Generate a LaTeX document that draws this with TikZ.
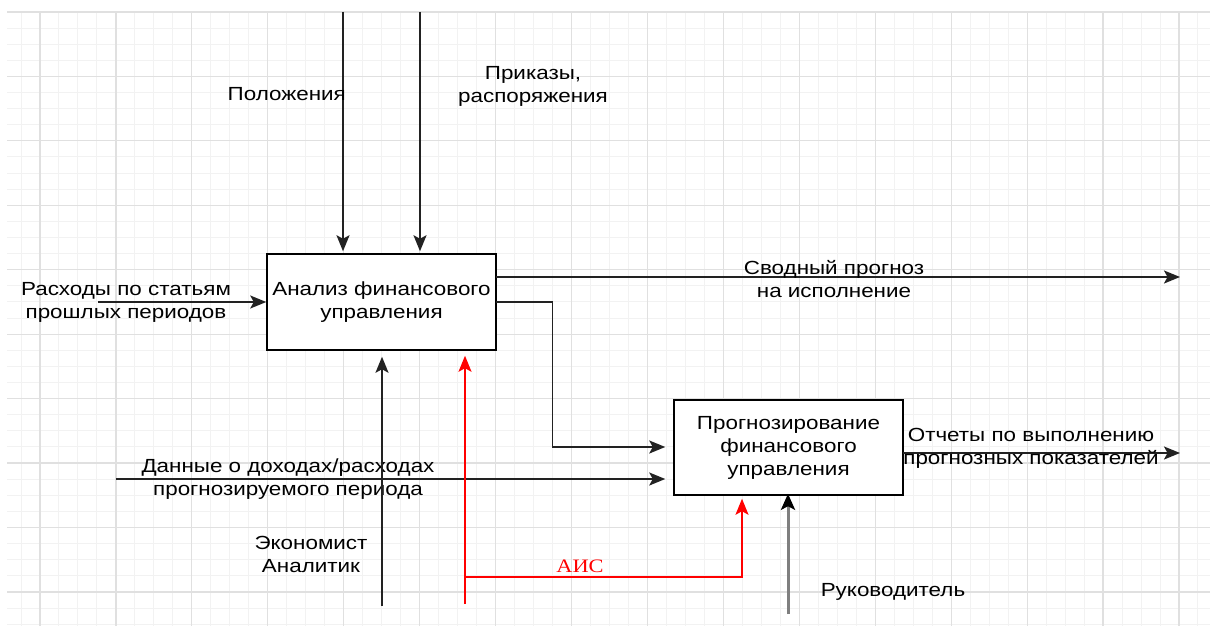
\documentclass[tikz,border=0pt]{standalone}
\usepackage{fontspec}
\usetikzlibrary{arrows.meta}
\newfontfamily\lab[FakeStretch=1.18]{Liberation Sans}
\newfontfamily\serlab[FakeStretch=1.18]{Liberation Serif}
\definecolor{minorgrid}{HTML}{F2F2F2}
\definecolor{majorgrid}{HTML}{E0E0E0}
\definecolor{lineclr}{HTML}{222222}
\definecolor{aisred}{HTML}{FF0000}
\definecolor{bossgray}{HTML}{7F7F7F}
\tikzset{
  minorline/.style={draw=minorgrid, line width=1pt},
  majorline/.style={draw=majorgrid, line width=1.2pt},
  procbox/.style={draw=black, line width=1.5pt, fill=white, minimum width=229pt, inner sep=0pt, align=center, font=\lab\fontsize{19}{23}\selectfont},
  lbl/.style={inner sep=0pt, align=center, font=\lab\fontsize{19}{23}\selectfont, text=black},
  tip/.style={-{Stealth[length=16pt,width=13pt,inset=3.5pt]}},
  conn/.style={draw=lineclr, line width=1.8pt, tip},
  redconn/.style={draw=aisred, line width=1.5pt, -{Stealth[length=16pt,width=13pt,inset=3.5pt]}},
  bossconn/.style={draw=bossgray, line width=3pt, -{Stealth[length=16pt,width=14pt,inset=3.5pt,color=black]}},
}
\begin{document}
\begin{tikzpicture}[x=1pt,y=-1pt]
\useasboundingbox (0,0) rectangle (1210,626);
\fill[white] (0,0) rectangle (1210,626);
% grid
\foreach \k in {-1,...,61} {
  \pgfmathsetmacro\xx{40+18.983*\k}
  \draw[minorline] (\xx,12) -- (\xx,626);
}
\foreach \k in {0,...,38} {
  \pgfmathsetmacro\yy{12+16.11*\k}
  \draw[minorline] (7,\yy) -- (1210,\yy);
}
\foreach \k in {0,...,15} {
  \pgfmathsetmacro\xx{40+75.93*\k}
  \draw[majorline] (\xx,12) -- (\xx,626);
}
\foreach \k in {0,...,9} {
  \pgfmathsetmacro\yy{12+64.44*\k}
  \draw[majorline] (7,\yy) -- (1210,\yy);
}

% boxes
\node[procbox, minimum height=96pt] (a1) at (381.5,302) {Анализ финансового\\управления};
\node[procbox, minimum height=95pt] (a2) at (788.5,447.5) {Прогнозирование\\финансового\\управления};

% controls
\coordinate (c1) at (343,12);
\coordinate (c2) at (420,12);
\draw[conn, shorten >=2pt] (c1) -- (c1 |- a1.north);
\draw[conn, shorten >=2pt] (c2) -- (c2 |- a1.north);
\node[lbl, anchor=east] (lc1) at (346,94) {Положения};
\node[lbl] (lc2) at (533,86) {Приказы,\\распоряжения};

% input 1
\coordinate (i1) at (98,302);
\draw[conn] (i1) -- (i1 -| a1.west);
\node[lbl] (li1) at (126,302) {Расходы по статьям\\прошлых периодов};

% output 1
\coordinate (o1s) at (496,277);
\coordinate (o1) at (1180,277);
\draw[conn] (o1s) -- (o1);
\node[lbl] (lo1) at (834,279) {Сводный прогноз\\на исполнение};

% link box1 -> box2
\coordinate (ls) at (496,302);
\coordinate (lt) at (552.5,447);
\draw[conn, shorten >=8pt] (ls) -| (lt) -- (lt -| a2.west);

% input 2
\coordinate (i2) at (116,479);
\draw[conn, shorten >=8pt] (i2) -- (i2 -| a2.west);
\node[lbl] (li2) at (288,479.5) {Данные о доходах/расходах\\прогнозируемого периода};

% output 2
\coordinate (o2s) at (903,453);
\coordinate (o2) at (1180,453);
\draw[conn] (o2s) -- (o2);
\node[lbl] (lo2) at (1031,448) {Отчеты по выполнению\\прогнозных показателей};

% mechanisms
\coordinate (m1) at (382,606);
\draw[conn, shorten >=6pt] (m1) -- (m1 |- a1.south);
\node[lbl] (lm1) at (311,554) {Экономист\\Аналитик};

\coordinate (m2) at (465,604);
\coordinate (m2b) at (465,577);
\coordinate (m2c) at (742,577);
\draw[redconn, shorten >=5pt] (m2) -- (m2 |- a1.south);
\draw[redconn, shorten >=3pt] (m2b) -- (m2c) -- (m2c |- a2.south);
\node[inner sep=0pt, font=\serlab\fontsize{19}{23}\selectfont, text=aisred] (lais) at (580,566) {АИС};

\coordinate (m3) at (788,614);
\draw[bossconn, shorten >=-2pt] (m3) -- (m3 |- a2.south);
\node[lbl] (lm3) at (893,592) {Руководитель};
\end{tikzpicture}
\end{document}
